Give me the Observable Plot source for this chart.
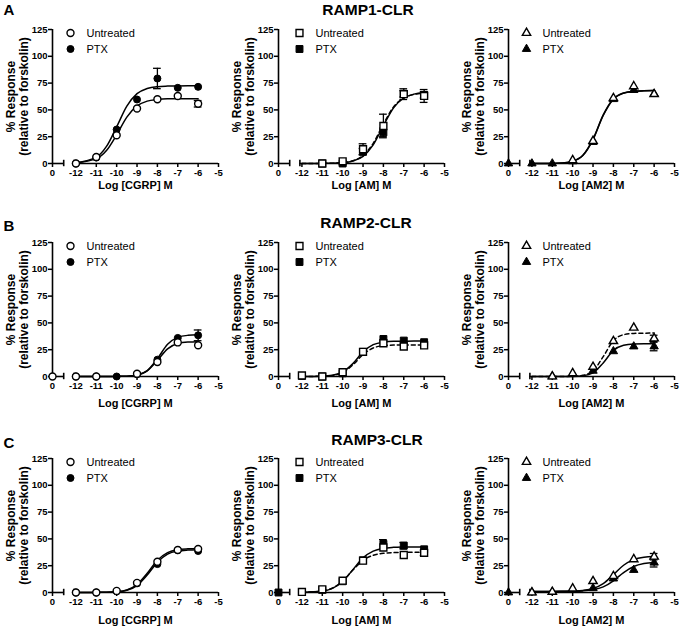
<!DOCTYPE html>
<html><head><meta charset="utf-8">
<script src="https://cdn.jsdelivr.net/npm/d3@7"></script>
<script src="https://cdn.jsdelivr.net/npm/@observablehq/plot@0.6"></script>
<style>
body{margin:0;background:#fff;font-family:"Liberation Sans",Arial,sans-serif;color:#000}
#root{position:relative;width:683px;height:627px;overflow:hidden;background:#fff}
#root svg{position:absolute;overflow:visible}
.title{position:absolute;font-weight:bold;font-size:15.5px;transform:translate(-50%,-50%);white-space:nowrap}
.letter{position:absolute;font-weight:bold;font-size:15px;transform:translate(-50%,-50%)}
</style></head><body><div id="root"></div>
<script>
// ---- data ----
const doses = [0, -12, -11, -10, -9, -8, -7, -6];          // log M (0 = vehicle)
const curveX = [-12, -11, -10.5, -10, -9.5, -9, -8.5, -8, -7.5, -7, -6.5, -6];
const rowTitles = ["RAMP1-CLR", "RAMP2-CLR", "RAMP3-CLR"];
const rowLetters = ["A", "B", "C"];
const ligands = ["CGRP", "AM", "AM2"];
const seriesNames = ["Untreated", "PTX"];
const yTicks = [0, 25, 50, 75, 100, 125];
const xTickValues = [-12, -11, -10, -9, -8, -7, -6, -5];

// panels row-major: A-CGRP, A-AM, A-AM2, B-CGRP, ...
const untreatedMean = [
  [null, 0, 6, 26.4, 51.3, 60, 63, 55.7],
  [null, null, 0, 2, 13.4, 35, 64.7, 63],
  [null, null, null, 3, 21, 61, 72, 64.7],
  [0, 0, 0, null, 2.5, 13.5, 31.8, 29.2],
  [null, 1, 0, 4, 23, 31, 28, 29],
  [null, null, 0, 3, 9, 33, 45.5, 35.5],
  [null, 0, 0, 1.5, 9, 28.7, 39.7, 40.6],
  [null, 0.5, 3, 11, 29.7, 42, 35, 37],
  [null, 0, 0.6, 3.7, 10.6, 15.3, 31, 33.4]
];
const untreatedErr = [
  [0, 0, 1, 1.5, 2, 2, 2, 3],
  [0, 0, 0.5, 1, 5, 11, 5, 6],
  [0, 0, 0, 1, 2, 2, 2, 2],
  [0.5, 0.5, 0.5, 0.5, 1, 1.5, 1.5, 2],
  [0, 0.5, 0.5, 1, 2, 2, 2, 2],
  [0, 0, 0.5, 1, 1.5, 2, 2, 3],
  [0, 0.5, 0.5, 1, 1.5, 2, 2, 2],
  [0, 0.5, 1, 1, 2, 2, 2, 2.5],
  [0, 0.5, 0.5, 1, 1.5, 1.5, 1.5, 3]
];
const ptxMean = [
  [null, 0, 5.5, 31.7, 59.7, 79.3, 70.6, 71.5],
  [null, null, 0, 0, 11, 29, 65, 64],
  [0, 0, 0, 2, 20, 60, 68.5, 65],
  [null, 0, 0, 0, 2, 15.7, 36, 38.4],
  [null, 0.5, 0, 3, 23, 35, 33.5, 32],
  [null, null, 0, 2.5, 5.3, 23.5, 28, 28],
  [null, 0, 0, 1, 8.5, 26.5, 39.5, 38.7],
  [0, 0.5, 2.5, 10.5, 30, 45.3, 43.7, 40.3],
  [0, 0, 0.5, 3, 4, 13, 21, 27.8]
];
const ptxErr = [
  [0, 0, 1, 2, 2, 9.5, 2, 2],
  [0, 0, 0.5, 1, 3, 4, 3, 3],
  [0, 0, 0, 1, 2, 2, 2, 2],
  [0, 0, 0, 0.5, 1, 1.5, 2, 5],
  [0, 0, 0, 1, 1, 1.5, 1.5, 2],
  [0, 0, 0, 0, 1, 2, 2, 4],
  [0, 0, 0, 1, 1, 2, 2, 2],
  [1, 0, 0, 0, 1.5, 4, 3, 2],
  [0, 0, 0, 0, 1, 1.5, 1.5, 4]
];
// fitted curves at curveX
const untreatedCurve = [
  [0.5, 4.5, 12.1, 26.8, 43.3, 53.7, 58.2, 59.7, 60.3, 60.4, 60.5, 60.5],
  [0, 0.1, 0.3, 0.8, 2.5, 7.4, 18.8, 36.8, 52.8, 61.1, 64.4, 65.5],
  [0, 0.1, 0.5, 2.1, 7.6, 22.7, 45.3, 60.4, 65.9, 67.5, 67.9, 68],
  [0, 0, 0, 0.1, 0.3, 1.3, 5.3, 15.0, 25.8, 30.7, 32.1, 32.4],
  [0, 0.3, 1.0, 3.7, 10.8, 20.5, 26.6, 28.7, 29.3, 29.4, 29.5, 29.5],
  [0, 0, 0, 0.2, 1.1, 5.3, 18.5, 33.4, 39.0, 40.2, 40.4, 40.5],
  [0, 0.1, 0.2, 0.7, 2.4, 7.4, 17.9, 30.1, 37.2, 39.9, 40.7, 41],
  [0.2, 1.4, 4.2, 10.7, 20.9, 30.0, 34.7, 36.6, 37.2, 37.4, 37.5, 37.5],
  [1, 1, 1.1, 1.3, 1.9, 3.7, 8.3, 16.6, 25.4, 30.7, 32.9, 33.6]
];
const ptxCurve = [
  [0.6, 5.9, 15.9, 34.2, 53.5, 65.2, 70.0, 71.7, 72.2, 72.4, 72.5, 72.5],
  [0, 0.1, 0.2, 0.7, 2.3, 6.7, 17.4, 35.2, 51.9, 61.1, 64.7, 65.9],
  [0, 0.1, 0.5, 2.0, 7.4, 22.3, 44.8, 60.0, 65.6, 67.3, 67.8, 68],
  [0, 0, 0, 0.1, 0.3, 1.4, 5.5, 16.6, 30.0, 36.5, 38.4, 38.9],
  [0, 0.3, 1.2, 4.2, 12.0, 23.0, 29.7, 32.1, 32.8, 32.9, 33, 33],
  [0, 0, 0, 0.1, 0.7, 3.4, 12.7, 24.4, 29.2, 30.3, 30.5, 30.5],
  [0, 0.1, 0.2, 0.6, 2.1, 6.5, 16.3, 28.3, 35.8, 38.7, 39.6, 39.9],
  [0.1, 1.3, 3.9, 10.2, 21.3, 32.3, 38.6, 41.2, 42.1, 42.4, 42.5, 42.5],
  [1, 1, 1.1, 1.2, 1.5, 2.5, 5.2, 10.9, 18.6, 24.3, 27.0, 28.0]
];
const untreatedDashed = [false, true, false, false, true, true, false, true, false];

// ---- layout / style ----
const symbols = ["circle", "square", "triangle"];
const symbolR = [3.5, 3.9, 3.1];
const colLeft = [0, 226, 456];
const rowTop = [0, 213, 429];
const xLabelOffset = [22, 27, 28];
const titlePos = [[368, 10], [366, 223], [377, 440]];
const letterPos = [[9, 9], [9, 225], [9, 442]];
const zeroPos = -13.15;   // axis position for the vehicle (0) dose
const breakEnd = -12.6;
const segStart = -12.1;
const capHalf = 0.19;
const FONT = "'Liberation Sans', Arial, sans-serif";

const pos = d => d === 0 ? zeroPos : d;
const root = document.getElementById("root");

function panel(i) {
  const row = Math.floor(i / 3), col = i % 3;
  const sym = symbols[col], r = symbolR[col];
  const pts = s => {
    const mean = s === 0 ? untreatedMean[i] : ptxMean[i];
    const err = s === 0 ? untreatedErr[i] : ptxErr[i];
    return doses.map((d, k) => ({x: pos(d), y: mean[k], e: err[k]})).filter(p => p.y != null);
  };
  const U = pts(0), P = pts(1);
  const errs = [...U, ...P].filter(p => p.e >= 2.5);
  const curve = arr => curveX.map((x, k) => ({x, y: arr[k]}));
  const marks = [
    // axes lines
    Plot.ruleX([zeroPos], {y1: () => 0, y2: () => 125, strokeWidth: 1.6}),
    Plot.ruleY([{x1: zeroPos, x2: breakEnd}, {x1: segStart, x2: -5}], {x1: "x1", x2: "x2", y: () => 0, strokeWidth: 1.6}),
    Plot.ruleX([breakEnd, segStart], {y1: () => -3, y2: () => 3, strokeWidth: 1.6}),
    Plot.axisX({ticks: [zeroPos, ...xTickValues], tickFormat: d => d === zeroPos ? "0" : String(d),
      tickSize: 4, tickPadding: 2, label: null, fontSize: 9.5, fontWeight: "bold", strokeWidth: 1.5}),
    Plot.axisY({ticks: yTicks, tickFormat: d => String(d), tickSize: 4, tickPadding: 1, label: null,
      fontSize: 9.5, fontWeight: "bold", strokeWidth: 1.5}),
    // error bars
    Plot.ruleX(errs, {x: "x", y1: d => d.y - d.e, y2: d => d.y + d.e, strokeWidth: 1.3}),
    Plot.ruleY(errs, {y: d => d.y + d.e, x1: d => d.x - capHalf, x2: d => d.x + capHalf, strokeWidth: 1.3}),
    Plot.ruleY(errs, {y: d => d.y - d.e, x1: d => d.x - capHalf, x2: d => d.x + capHalf, strokeWidth: 1.3}),
    // curves
    Plot.line(curve(ptxCurve[i]), {x: "x", y: "y", curve: "monotone-x", strokeWidth: 1.5}),
    Plot.line(curve(untreatedCurve[i]), {x: "x", y: "y", curve: "monotone-x", strokeWidth: 1.5,
      strokeDasharray: untreatedDashed[i] ? "4,3" : null}),
    // points
    Plot.dot(P, {x: "x", y: "y", symbol: sym, r, fill: "black", stroke: "black", strokeWidth: 1}),
    Plot.dot(U, {x: "x", y: "y", symbol: sym, r, fill: "white", stroke: "black", strokeWidth: 1.4}),
    // y label
    Plot.text(["% Response\n(relative to forskolin)"], {frameAnchor: "left", dx: -35, rotate: -90,
      textAnchor: "middle", lineAnchor: "middle", fontSize: 12, fontWeight: "bold", lineHeight: 1.05}),
    // x label
    Plot.text([`Log [${ligands[col]}] M`], {frameAnchor: "bottom", dy: xLabelOffset[row],
      lineAnchor: "middle", fontSize: 11, fontWeight: "bold"})
  ];
  // legend
  seriesNames.forEach((name, j) => {
    const dy = 3.5 + 16 * j;
    marks.push(Plot.dot([name], {frameAnchor: "top-left", dx: col === 1 ? 21 : 18, dy, symbol: sym, r,
      fill: j === 0 ? "white" : "black", stroke: "black", strokeWidth: j === 0 ? 1.4 : 1}));
    marks.push(Plot.text([name], {frameAnchor: "top-left", dx: col === 1 ? 37 : 34, dy, textAnchor: "start",
      lineAnchor: "middle", fontSize: 11, fontWeight: "normal"}));
  });
  const svg = Plot.plot({
    width: 225, height: 199,
    marginLeft: 52, marginRight: 7, marginTop: 29, marginBottom: 36,
    x: {domain: [zeroPos, -5]},
    y: {domain: [0, 125]},
    style: {fontFamily: FONT, fontWeight: "bold", fontSize: "9.5px", background: "transparent", overflow: "visible", color: "black"},
    marks
  });
  svg.style.left = colLeft[col] + "px";
  svg.style.top = rowTop[row] + "px";
  root.appendChild(svg);
}
for (let i = 0; i < 9; i++) panel(i);

rowTitles.forEach((t, k) => {
  const d = document.createElement("div");
  d.className = "title"; d.textContent = t;
  d.style.left = titlePos[k][0] + "px"; d.style.top = titlePos[k][1] + "px";
  root.appendChild(d);
  const l = document.createElement("div");
  l.className = "letter"; l.textContent = rowLetters[k];
  l.style.left = letterPos[k][0] + "px"; l.style.top = letterPos[k][1] + "px";
  root.appendChild(l);
});
</script></body></html>
